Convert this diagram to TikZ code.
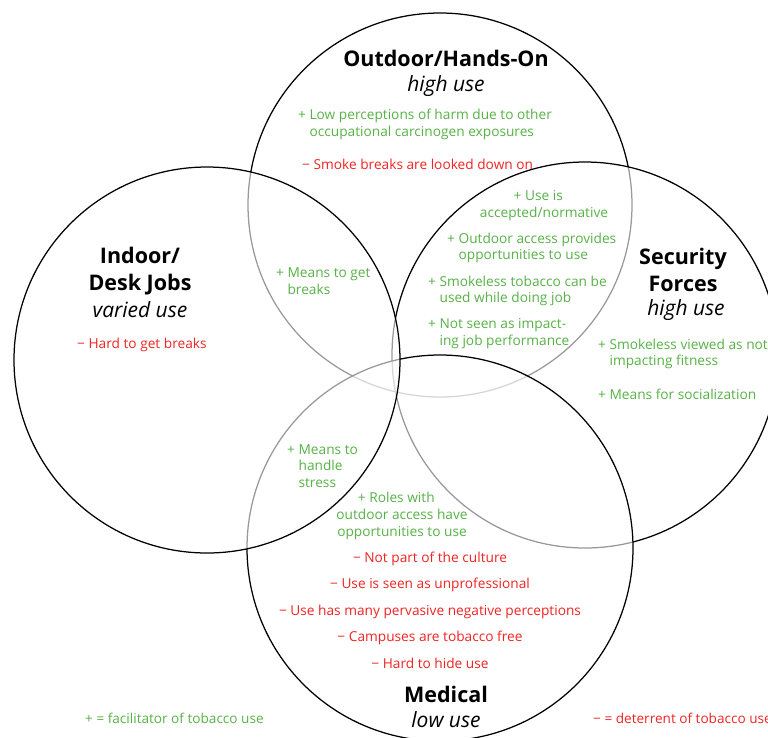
\documentclass[tikz,border=0pt]{standalone}
\usepackage{fontspec}
\setmainfont{Open Sans}
\definecolor{posgreen}{RGB}{88,178,72}
\definecolor{negred}{RGB}{240,36,36}
\tikzset{
  venn/.style={draw=black, line width=1.25pt, fill=white, fill opacity=0.6},
  headtext/.style={font=\fontsize{21.5}{27}\selectfont\bfseries, align=center, inner sep=0pt, text=black},
  subtext/.style={font=\fontsize{21}{27}\selectfont\itshape, inner sep=0pt, text=black},
  postext/.style={font=\fontsize{13.7}{16.8}\selectfont, text=posgreen, inner sep=0pt},
  negtext/.style={font=\fontsize{13.7}{16.8}\selectfont, text=negred, inner sep=0pt},
  legtext/.style={font=\fontsize{13.6}{16}\selectfont, inner sep=0pt},
}
\begin{document}
\begin{tikzpicture}[x=1pt,y=-1pt]
\useasboundingbox (0,0) rectangle (768,737);
% circles (draw order gives the grey overlaps)
\path[venn] (440,205) circle (192);
\path[venn] (585,355) circle (193);
\path[venn] (440,548) circle (193);
\path[venn] (207,360) circle (193);

% Outdoor
\node[headtext] (outh) at (446,58) {Outdoor/Hands-On};
\node[subtext] (outs) at (446,86) {high use};
\node[postext, align=left, anchor=west] (o1) at (298,124) {+ Low perceptions of harm due to other\\\hphantom{+ }occupational carcinogen exposures};
\node[negtext, anchor=west] (o2) at (302,164) {− Smoke breaks are looked down on};

% Outdoor ∩ Security
\node[postext, align=center] (os1) at (544,205.5) {\llap{+ }Use is\\accepted/normative};
\node[postext, align=left, anchor=west] (os2) at (447,248) {+ Outdoor access provides\\\hphantom{+ }opportunities to use};
\node[postext, align=left, anchor=west] (os3) at (428,291) {+ Smokeless tobacco can be\\\hphantom{+ }used while doing job};
\node[postext, align=left, anchor=west] (os4) at (428,334) {+ Not seen as impact-\\\hphantom{+ }ing job performance};

% Outdoor ∩ Indoor
\node[postext, align=left, anchor=west] (oi) at (276,281) {+ Means to get\\\hphantom{+ }breaks};

% Indoor
\node[headtext] (inh) at (140,271) {Indoor/\\Desk Jobs};
\node[subtext] (ins) at (140,310) {varied use};
\node[negtext, anchor=west] (in1) at (77,345) {− Hard to get breaks};

% Security
\node[headtext] (seh) at (683,270) {Security\\Forces};
\node[subtext] (ses) at (686,310) {high use};
\node[postext, align=left, anchor=west] (se1) at (598,354) {+ Smokeless viewed as not\\\hphantom{+ }impacting fitness};
\node[postext, anchor=west] (se2) at (598,394) {+ Means for socialization};

% Indoor ∩ Medical
\node[postext, align=left, anchor=west] (im) at (287,466) {+ Means to\\\hphantom{+ }handle\\\hphantom{+ }stress};

% Outdoor ∩ Medical
\node[postext, align=center] (om) at (402,516) {\llap{+ }Roles with\\outdoor access have\\opportunities to use};

% Medical
\node[negtext] (m1) at (430,558.5) {− Not part of the culture};
\node[negtext] (m2) at (430,585) {− Use is seen as unprofessional};
\node[negtext] (m3) at (430,611.5) {− Use has many pervasive negative perceptions};
\node[negtext] (m4) at (430,638) {− Campuses are tobacco free};
\node[negtext] (m5) at (430,663.5) {− Hard to hide use};
\node[headtext] (meh) at (446,694) {Medical};
\node[subtext] (mes) at (446,720) {low use};

% Legend
\node[legtext, text=posgreen, anchor=west] (lg1) at (85,718) {+ = facilitator of tobacco use};
\node[legtext, text=negred, anchor=west] (lg2) at (593,718) {− = deterrent of tobacco use};
\end{tikzpicture}
\end{document}
